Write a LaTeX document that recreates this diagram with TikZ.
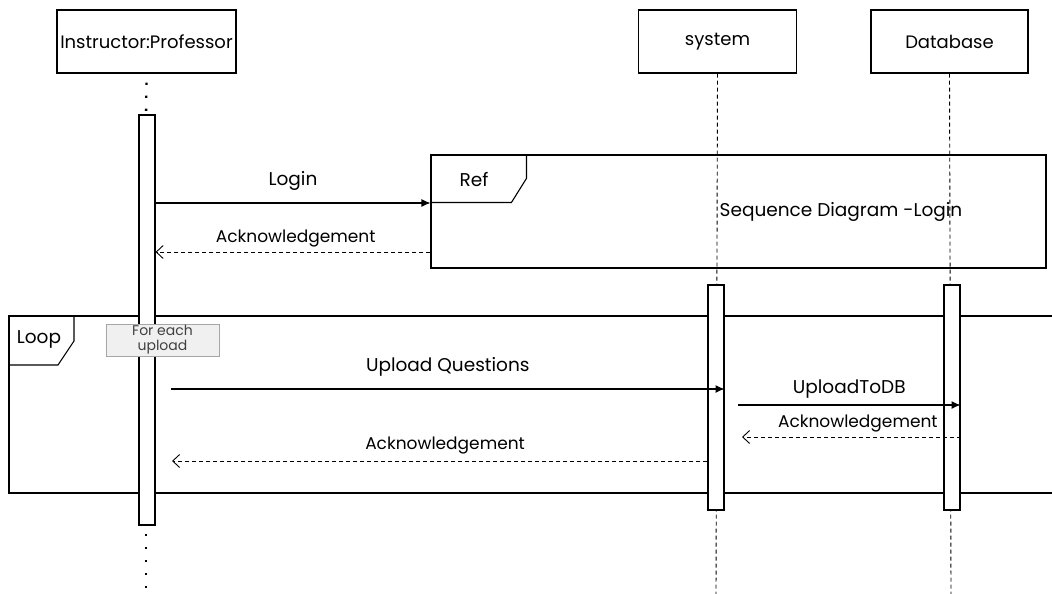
\documentclass[tikz,border=0pt]{standalone}
\usepackage{fontspec}
\setmainfont{Poppins}
\usetikzlibrary{arrows.meta}
\begin{document}
\begin{tikzpicture}[x=1pt,y=-1pt,
  lifebox/.style={draw,line width=1.1pt,minimum width=179pt,minimum height=63pt,inner sep=0pt,font=\fontsize{18}{20}\selectfont},
  actbox/.style={draw,line width=1.1pt,fill=white,minimum width=16pt,inner sep=0pt},
  frameline/.style={draw,line width=1.1pt},
  dotline/.style={line width=2.4pt,dash pattern=on 2.4pt off 10.6pt},
  dashline/.style={line width=0.9pt,dash pattern=on 4pt off 3pt},
  msg/.style={line width=1.1pt,-{Latex[length=9pt,width=8pt]}},
  reply/.style={line width=0.9pt,dash pattern=on 4pt off 3pt,-{Straight Barb[length=7pt,width=13pt]}},
  lbl/.style={font=\fontsize{18.5}{20}\selectfont},
  slbl/.style={font=\fontsize{17}{19}\selectfont}]
\useasboundingbox (0,0) rectangle (1052,594);
\fill[white] (0,0) rectangle (1052,594);

% lifeline heads
\node[lifebox,minimum width=179pt] (prof) at (146.5,41.5) {Instructor:Professor};
\node[lifebox,minimum width=158pt] (sys) at (717.5,41.5) {system};
\node[lifebox,minimum width=157pt] (db) at (949.5,41.5) {Database};

% lifelines
\coordinate (profEnd) at (146,594);
\coordinate (sysEnd) at (716,594);
\coordinate (dbEnd) at (951,594);
\draw[dotline] ([yshift=-9pt]prof.south) -- (146,115);
\draw[dotline] (146,534) -- (profEnd);
\draw[dashline] (sys.south) -- (sysEnd);
\draw[dashline] (db.south) -- (dbEnd);

% Ref frame
\node[frameline,minimum width=615pt,minimum height=113pt,inner sep=0pt] (ref) at (738.5,211.5) {};
\draw[line width=1.1pt] (ref.north west) ++(96,0) coordinate (rt1) -- ++(0,24) -- ++(-15,24) coordinate (rt2) -- (ref.north west |- rt2);
\node[lbl] (reflbl) at (474,180) {Ref};
\node[lbl] (refsd) at (841,212) {Sequence Diagram -Login};

% Loop frame
\draw[line width=1.1pt] (1060,316) -- (9,316) -- (9,493) -- (1060,493);
\coordinate (loopNW) at (9,316);
\draw[line width=1.1pt] (loopNW) ++(65,0) -- ++(0,25) -- ++(-16,24) -- (9,365);
\node[lbl] (looplbl) at (39,339) {Loop};

% activations (drawn after frames so they sit on top)
\node[actbox,minimum height=410pt] (profAct) at (147,320) {};
\node[actbox,minimum height=225pt] (sysAct) at (716,397.5) {};
\node[actbox,minimum height=225pt] (dbAct) at (952,397.5) {};

% guard
\node[draw=gray!70,fill=gray!12,line width=0.8pt,minimum width=113pt,minimum height=32pt,inner sep=0pt,align=center,
  font=\fontsize{14}{15}\selectfont,text=black!75] (guard) at (162.5,340) {For each\\upload};

% messages
\coordinate (m1s) at (profAct.east |- 0,203);
\coordinate (m1e) at (ref.west |- 0,203);
\draw[msg] (m1s) -- (m1e) node[lbl,pos=0.5,above=9pt] (loginlbl) {Login};
\coordinate (r1s) at (ref.west |- 0,252);
\coordinate (r1e) at (profAct.east |- 0,252);
\draw[reply] (r1s) -- (r1e) node[slbl,pos=0.49,above=1pt] (ack1) {Acknowledgement};

\coordinate (m2s) at (171,389);
\coordinate (m2e) at (sysAct.east |- 0,389);
\draw[msg] (m2s) -- (m2e) node[lbl,pos=0.5,above=9pt] (uqlbl) {Upload Questions};

\coordinate (m3s) at (738,405);
\coordinate (m3e) at (dbAct.east |- 0,405);
\draw[msg] (m3s) -- (m3e) node[lbl,pos=0.5,above=3pt] (udblbl) {UploadToDB};

\coordinate (r3s) at (dbAct.east |- 0,437);
\coordinate (r3e) at (742,437);
\draw[reply] (r3s) -- (r3e) node[slbl,pos=0.47,above=1pt] (ack3) {Acknowledgement};

\coordinate (r2s) at (sysAct.west |- 0,461);
\coordinate (r2e) at (172,461);
\draw[reply] (r2s) -- (r2e) node[slbl,pos=0.49,above=3pt] (ack2) {Acknowledgement};
\end{tikzpicture}
\end{document}
